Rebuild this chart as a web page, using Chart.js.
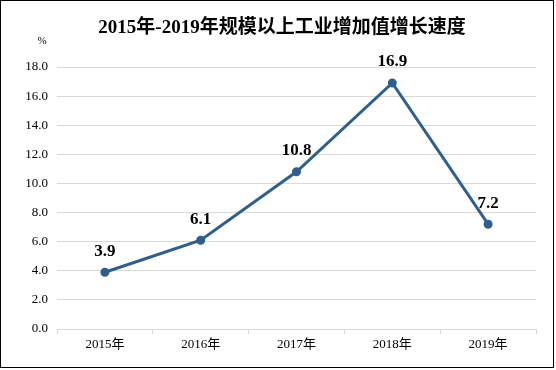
<!DOCTYPE html>
<html>
<head>
<meta charset="utf-8">
<script src="https://cdn.jsdelivr.net/npm/chart.js@4/dist/chart.umd.min.js"></script>
<style>
  body { margin: 0; background: #fff; }
  #box { width: 552px; height: 366px; border: 1px solid #000; position: relative; }
</style>
</head>
<body>
<div id="box"><canvas id="myChart" width="552" height="366"></canvas></div>
<script>
const years = ['2015年', '2016年', '2017年', '2018年', '2019年']
const growth = [3.9, 6.1, 10.8, 16.9, 7.2]
const title = '2015年-2019年规模以上工业增加值增长速度'
const unit = '%'

const serif = "'Liberation Serif', 'Times New Roman', 'Noto Sans CJK SC', serif"
const lineColor = '#2f5f8f'

// title, unit and the value labels over each point
const extras = {
  id: 'extras',
  afterDatasetsDraw(chart) {
    const c = chart.ctx
    c.save()
    c.fillStyle = '#000'
    c.textAlign = 'center'
    c.textBaseline = 'middle'
    c.font = 'bold 19px ' + serif
    c.fillText(title, 281, 27)
    c.font = '11px ' + serif
    c.fillText(unit, 41, 40)
    c.font = 'bold 17px ' + serif
    chart.getDatasetMeta(0).data.forEach((pt, i) => {
      c.fillText(growth[i].toFixed(1), pt.x, pt.y - 21)
    })
    c.restore()
  }
}

const ctx = document.getElementById('myChart')
new Chart(ctx, {
  type: 'line',
  data: {
    labels: years,
    datasets: [{
      data: growth,
      borderColor: lineColor,
      backgroundColor: lineColor,
      borderWidth: 3,
      pointRadius: 3,
      pointHoverRadius: 3,
      tension: 0
    }]
  },
  options: {
    responsive: false,
    animation: false,
    layout: { padding: { top: 66, right: 17, bottom: 0, left: 0 } },
    plugins: { legend: { display: false }, tooltip: { enabled: false } },
    scales: {
      x: {
        offset: true,
        grid: { offset: true, drawOnChartArea: false, color: '#d9d9d9', tickLength: 5 },
        border: { color: '#d9d9d9' },
        ticks: { color: '#000', font: { family: serif, size: 13 }, padding: 3, maxRotation: 0 },
        afterFit(scale) { scale.height = 38 }
      },
      y: {
        min: 0,
        max: 18,
        grid: { color: '#d9d9d9', drawTicks: false },
        border: { display: false },
        ticks: {
          stepSize: 2,
          color: '#000',
          padding: 9,
          font: { family: serif, size: 13 },
          callback: v => v.toFixed(1)
        },
        afterFit(scale) { scale.width = 56 }
      }
    }
  },
  plugins: [extras]
})
</script>
</body>
</html>
